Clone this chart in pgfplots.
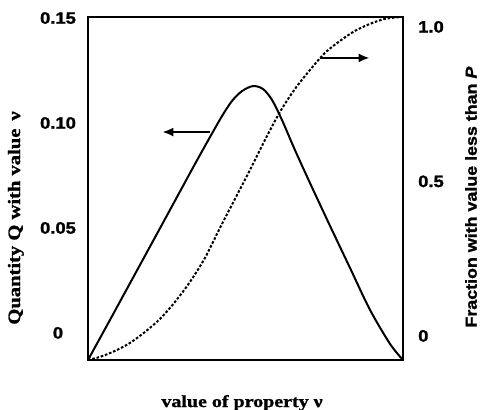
\documentclass[border=0pt]{standalone}
\usepackage{fontspec}
\setmainfont{Liberation Serif}[FakeStretch=1.18, BoldFeatures={FakeBold=1.2}]
\newfontfamily\tickfont{Liberation Sans}[FakeStretch=1.12, BoldFeatures={FakeBold=1.5}, BoldItalicFeatures={FakeBold=1.5}]
\usepackage{pgfplots}
\pgfplotsset{compat=1.18}
\usetikzlibrary{arrows.meta}
\begin{document}
\begin{tikzpicture}
\begin{axis}[name=ax, scale only axis, width=315bp, height=343bp,
  xmin=0, xmax=1, ymin=-0.0129, ymax=0.1505,
  xtick=\empty, ytick={0,0.05,0.10,0.15}, yticklabels={0,0.05,0.10,0.15},
  major tick length=0pt,
  axis line style={line width=1.5bp},
  yticklabel style={font=\tickfont\bfseries\fontsize{16.5}{18}\selectfont, anchor=center, xshift=-30bp},
  xlabel={value of property ν},
  xlabel style={at={(axis description cs:0.489,-0.125)}, anchor=center, font=\bfseries\fontsize{17}{19}\selectfont},
  ylabel={Quantity Q with value\, ν},
  ylabel style={at={(axis description cs:-0.229,0.414)}, anchor=center, font=\bfseries\fontsize{17.5}{20}\selectfont},
  clip=false]
\addplot[black, line width=2bp, smooth, tension=0.5] coordinates {
(0,-0.0129) (0.0698,0.0062) (0.1651,0.0324) (0.2603,0.0586) (0.3397,0.0805)
(0.3873,0.0933) (0.4254,0.1033) (0.4571,0.1105) (0.4889,0.1152) (0.5238,0.1176)
(0.5556,0.1162) (0.5841,0.1110) (0.6159,0.1014) (0.6571,0.0871) (0.7048,0.0714)
(0.7683,0.0510) (0.8317,0.0310) (0.8952,0.0110) (0.9587,-0.0052) (1,-0.0129)};
\draw[line width=2bp, -{Latex[length=11bp,width=9bp]}] (axis cs:0.387,0.0957) -- (axis cs:0.236,0.0957);
\draw[line width=2bp, -{Latex[length=11bp,width=9bp]}] (axis cs:0.737,0.131) -- (axis cs:0.894,0.131);
\end{axis}
\begin{axis}[scale only axis, width=315bp, height=343bp,
  xmin=0, xmax=1, ymin=-0.078, ymax=1.032,
  axis x line=none, axis y line*=right,
  ytick={0,0.5,1}, yticklabels={0,0.5,1.0},
  major tick length=0pt,
  axis line style={line width=1.5bp},
  yticklabel style={font=\tickfont\bfseries\fontsize{16.5}{18}\selectfont, anchor=west, inner sep=0pt, xshift=15bp},
  ylabel={\tickfont Fraction with value less than \textit{P}},
  ylabel style={at={(axis description cs:1.216,0.475)}, anchor=center, font=\bfseries\fontsize{16}{18}\selectfont}]
\addplot[black, line width=2bp, dash pattern=on 2.6bp off 1.8bp, smooth, tension=0.5] coordinates {
(0,-0.0777) (0.0381,-0.0680) (0.0857,-0.0485) (0.1333,-0.0227) (0.1810,0.0129)
(0.2286,0.0550) (0.2762,0.1100) (0.3238,0.1748) (0.3714,0.2524) (0.4190,0.3495)
(0.4667,0.4434) (0.5143,0.5372) (0.5619,0.6343) (0.6095,0.7249) (0.6571,0.7994)
(0.7048,0.8608) (0.7524,0.9159) (0.8,0.9547) (0.8476,0.9871) (0.8952,1.0097)
(0.9429,1.0259) (0.9968,1.0324)};
\end{axis}
\pgfresetboundingbox
\path ([shift={(-88bp,-50bp)}]ax.south west) rectangle ([shift={(394bp,360bp)}]ax.south west);
\end{tikzpicture}
\end{document}
